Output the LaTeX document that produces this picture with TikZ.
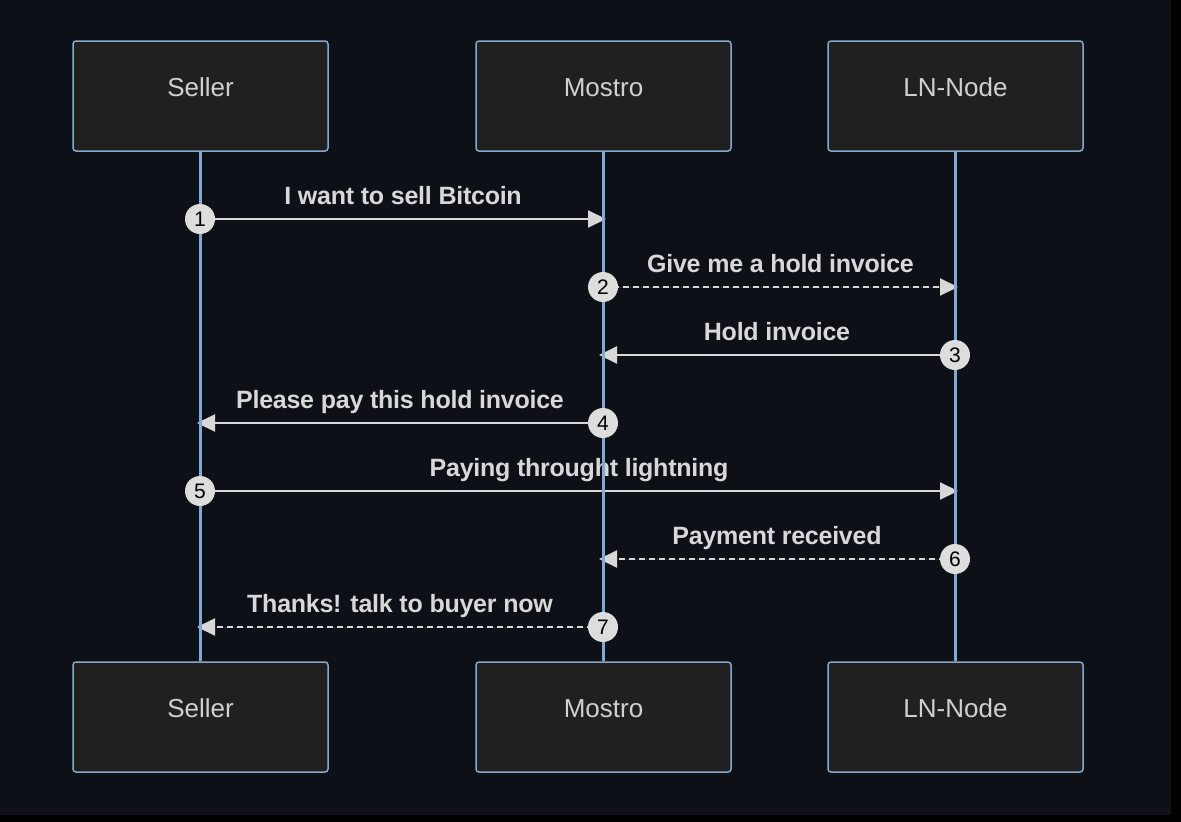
\documentclass[tikz,border=0pt]{standalone}
\usepackage{fontspec}
\setmainfont{Liberation Sans}
\newfontfamily\msgfont[LetterSpace=-1]{Liberation Sans Bold}
\usetikzlibrary{arrows.meta}
\definecolor{bg}{HTML}{0D1117}
\definecolor{boxfill}{HTML}{202020}
\definecolor{boxline}{HTML}{86A8CC}
\definecolor{life}{HTML}{80A9D6}
\definecolor{txt}{HTML}{D0D0D0}
\definecolor{msgc}{HTML}{D8D8D8}
\definecolor{numfill}{HTML}{DDDDDD}
\tikzset{
  actor/.style={draw=boxline, line width=1.5pt, fill=boxfill, rounded corners=3pt,
    minimum width=255pt, minimum height=110pt, text height=0pt, text depth=0pt,
    inner sep=0pt, text=txt, font=\fontsize{26}{30}\selectfont},
  lifeline/.style={draw=life, line width=3pt},
  msg/.style={draw=msgc, line width=2pt, -{Triangle[length=18pt,width=17pt]}, fill=msgc},
  reply/.style={msg, dash pattern=on 6pt off 4pt},
  lbl/.style={anchor=base, yshift=15pt, text=msgc, inner sep=0pt,
    font=\msgfont\fontsize{25}{30}\selectfont},
  num/.style={circle, fill=numfill, minimum size=30pt, inner sep=0pt,
    text=black, font=\fontsize{21}{24}\selectfont}
}
\begin{document}
\begin{tikzpicture}[x=1pt,y=-1pt]
\fill[black] (0,0) rectangle (1181,822);
\fill[bg] (0,0) rectangle (1171,815);
\useasboundingbox (0,0) rectangle (1181,822);

% actors
\node[actor] (sTop) at (200.5,96) {Seller};
\node[actor] (mTop) at (603.5,96) {Mostro};
\node[actor] (lTop) at (955.5,96) {LN-Node};
\node[actor] (sBot) at (200.5,717) {Seller};
\node[actor] (mBot) at (603.5,717) {Mostro};
\node[actor] (lBot) at (955.5,717) {LN-Node};

% message end points
\coordinate (a1) at (200,219);  \coordinate (b1) at (606,219);
\coordinate (a2) at (603,287);  \coordinate (b2) at (958,287);
\coordinate (a3) at (955,355);  \coordinate (b3) at (599,355);
\coordinate (a4) at (603,423);  \coordinate (b4) at (197,423);
\coordinate (a5) at (200,491);  \coordinate (b5) at (958,491);
\coordinate (a6) at (955,559);  \coordinate (b6) at (599,559);
\coordinate (a7) at (603,627);  \coordinate (b7) at (197,627);

% messages
\draw[msg]   (a1) -- (b1) node[lbl, midway] (t1) {I want to sell Bitcoin};
\draw[reply] (a2) -- (b2) node[lbl, midway] (t2) {Give me a hold invoice};
\draw[msg]   (a3) -- (b3) node[lbl, midway] (t3) {Hold invoice};
\draw[msg]   (a4) -- (b4) node[lbl, midway] (t4) {Please pay this hold invoice};
\draw[msg]   (a5) -- (b5) node[lbl, midway] (t5) {Paying throught lightning};
\draw[reply] (a6) -- (b6) node[lbl, midway] (t6) {Payment received};
\draw[reply] (a7) -- (b7) node[lbl, midway] (t7) {Thanks! talk to buyer now};

% lifelines
\draw[lifeline] (sTop.south) -- (sBot.north);
\draw[lifeline] (mTop.south) -- (mBot.north);
\draw[lifeline] (lTop.south) -- (lBot.north);

% sequence numbers
\node[num] (n1) at (a1) {1};
\node[num] (n2) at (a2) {2};
\node[num] (n3) at (a3) {3};
\node[num] (n4) at (a4) {4};
\node[num] (n5) at (a5) {5};
\node[num] (n6) at (a6) {6};
\node[num] (n7) at (a7) {7};
\end{tikzpicture}
\end{document}
